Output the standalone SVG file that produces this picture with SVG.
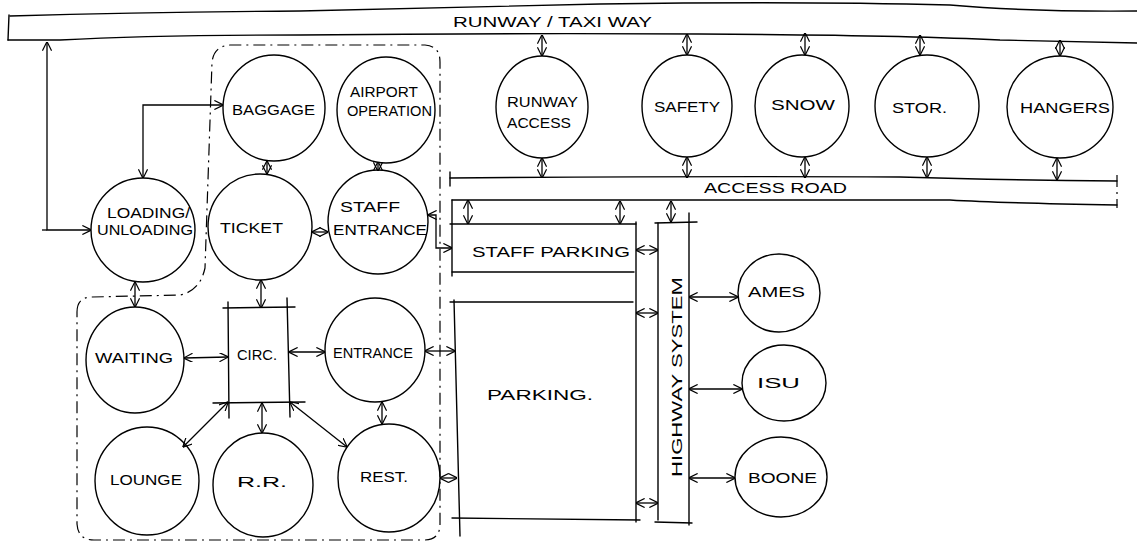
<svg xmlns="http://www.w3.org/2000/svg" width="1137" height="545" viewBox="0 0 1137 545">
<style>
  .ln{fill:none;stroke:#000;stroke-width:1.4;stroke-linecap:round;stroke-linejoin:round}
  .nd{fill:none;stroke:#000;stroke-width:1.4}
  .bd{fill:none;stroke:#000;stroke-width:1.2;stroke-dasharray:12 5 2 5}
  .cn{fill:none;stroke:#000;stroke-width:1.3;marker-start:url(#ah);marker-end:url(#ah)}
  .cs{fill:none;stroke:#000;stroke-width:1.3}
  text{font-family:"Liberation Sans",Arial,sans-serif;font-size:14px;fill:#000;lengthAdjust:spacingAndGlyphs}
</style>
<defs>
  <marker id="ah" viewBox="0 0 10 10" refX="9.5" refY="5" markerWidth="7" markerHeight="7" orient="auto-start-reverse">
    <path d="M0,0 L10,5 L0,10" fill="none" stroke="#000" stroke-width="1.3"/>
  </marker>
</defs>
<rect width="1137" height="545" fill="#fff"/>

<!-- structures -->
<g id="runway">
  <path class="ln" d="M10,16 Q150,12 300,11 Q450,8 600,4 Q800,1 950,5 Q1030,12 1137,11"/>
  <path class="ln" d="M8,40 L60,40 Q150,35 300,35 Q500,33 700,34 Q900,35 1000,40 L1137,43"/>
  <path class="ln" d="M9,15 L8,40"/>
  <text x="453" y="27" textLength="199" lengthAdjust="spacingAndGlyphs">RUNWAY / TAXI WAY</text>
</g>
<g id="access-road">
  <path class="ln" d="M450,178 Q700,176 900,177 Q1000,180 1117,181"/>
  <path class="ln" d="M452,200 Q800,199 950,200 Q1000,203 1117,205"/>
  <path class="ln" d="M450,172 L450,186"/>
  <path class="bd" d="M1117,175 L1117,208"/>
  <text x="704" y="193" textLength="143" lengthAdjust="spacingAndGlyphs">ACCESS ROAD</text>
</g>
<g id="staff-parking">
  <path class="ln" d="M450,224 L636,224"/>
  <path class="ln" d="M452,272 L634,272"/>
  <path class="ln" d="M452,200 L452,276"/>
  <text x="472" y="257" textLength="158" lengthAdjust="spacingAndGlyphs">STAFF PARKING</text>
</g>
<g id="parking">
  <path class="ln" d="M450,302 L633,302"/>
  <path class="ln" d="M452,518 L640,520"/>
  <path class="ln" d="M454,300 L460,536"/>
  <path class="ln" d="M636,222 L636,522"/>
  <text x="487" y="400" textLength="106" lengthAdjust="spacingAndGlyphs">PARKING.</text>
</g>
<g id="highway-system">
  <path class="ln" d="M655,223 L697,222"/>
  <path class="ln" d="M658,223 L658,520"/>
  <path class="ln" d="M689,213 L689,525"/>
  <path class="ln" d="M655,522 L692,523"/>
  <text transform="translate(682,377) rotate(-90)" x="-100" y="0" textLength="200" lengthAdjust="spacingAndGlyphs">HIGHWAY SYSTEM</text>
</g>
<g id="circ">
  <path class="ln" d="M223,308 L295,307"/>
  <path class="ln" d="M228,302 L229,418"/>
  <path class="ln" d="M287,298 L290,417"/>
  <path class="ln" d="M213,403 L305,402"/>
  <text x="237" y="360" textLength="40" lengthAdjust="spacingAndGlyphs">CIRC.</text>
</g>
<g id="boundary">
  <path class="bd" d="M77,312 Q77,297 92,297 L180,295 Q200,291 205,268 L212,62 Q214,46 230,45 L425,45 Q440,46 440,62 L440,524 Q440,540 424,540 L94,540 Q78,540 77,524 Z"/>
</g>

<!-- nodes -->
<g id="baggage"><ellipse class="nd" cx="274" cy="108" rx="51" ry="53"/><text x="232" y="115" textLength="83" lengthAdjust="spacingAndGlyphs">BAGGAGE</text></g>
<g id="airport-operation"><ellipse class="nd" cx="386" cy="110" rx="49" ry="53"/><text x="350" y="97" textLength="68" lengthAdjust="spacingAndGlyphs">AIRPORT</text><text x="347" y="116" textLength="85" lengthAdjust="spacingAndGlyphs">OPERATION</text></g>
<g id="loading-unloading"><ellipse class="nd" cx="143" cy="230" rx="52" ry="52"/><text x="107" y="218" textLength="83" lengthAdjust="spacingAndGlyphs">LOADING/</text><text x="97" y="235" textLength="96" lengthAdjust="spacingAndGlyphs">UNLOADING</text></g>
<g id="ticket"><ellipse class="nd" cx="260" cy="227" rx="52" ry="53"/><text x="220" y="233" textLength="63" lengthAdjust="spacingAndGlyphs">TICKET</text></g>
<g id="staff-entrance"><ellipse class="nd" cx="378" cy="222" rx="50" ry="52"/><text x="340" y="212" textLength="60" lengthAdjust="spacingAndGlyphs">STAFF</text><text x="333" y="235" textLength="94" lengthAdjust="spacingAndGlyphs">ENTRANCE</text></g>
<g id="waiting"><ellipse class="nd" cx="135" cy="360" rx="49" ry="53"/><text x="95" y="363" textLength="78" lengthAdjust="spacingAndGlyphs">WAITING</text></g>
<g id="entrance"><ellipse class="nd" cx="375" cy="350" rx="50" ry="52"/><text x="333" y="358" textLength="80" lengthAdjust="spacingAndGlyphs">ENTRANCE</text></g>
<g id="lounge"><ellipse class="nd" cx="147" cy="481" rx="52" ry="54"/><text x="110" y="485" textLength="72" lengthAdjust="spacingAndGlyphs">LOUNGE</text></g>
<g id="rr"><ellipse class="nd" cx="263" cy="485" rx="50" ry="52"/><text x="237" y="487" textLength="50" lengthAdjust="spacingAndGlyphs">R.R.</text></g>
<g id="rest"><ellipse class="nd" cx="389" cy="478" rx="51" ry="54"/><text x="360" y="482" textLength="48" lengthAdjust="spacingAndGlyphs">REST.</text></g>
<g id="runway-access"><ellipse class="nd" cx="542" cy="107" rx="46" ry="51"/><text x="507" y="107" textLength="71" lengthAdjust="spacingAndGlyphs">RUNWAY</text><text x="507" y="128" textLength="64" lengthAdjust="spacingAndGlyphs">ACCESS</text></g>
<g id="safety"><ellipse class="nd" cx="687" cy="106" rx="45" ry="51"/><text x="654" y="112" textLength="66" lengthAdjust="spacingAndGlyphs">SAFETY</text></g>
<g id="snow"><ellipse class="nd" cx="802" cy="106" rx="47" ry="51"/><text x="771" y="110" textLength="64" lengthAdjust="spacingAndGlyphs">SNOW</text></g>
<g id="stor"><ellipse class="nd" cx="927" cy="106" rx="52" ry="51"/><text x="892" y="113" textLength="55" lengthAdjust="spacingAndGlyphs">STOR.</text></g>
<g id="hangers"><ellipse class="nd" cx="1060" cy="107" rx="53" ry="51"/><text x="1020" y="113" textLength="90" lengthAdjust="spacingAndGlyphs">HANGERS</text></g>
<g id="ames"><ellipse class="nd" cx="779" cy="293" rx="41" ry="39"/><text x="748" y="297" textLength="57" lengthAdjust="spacingAndGlyphs">AMES</text></g>
<g id="isu"><ellipse class="nd" cx="784" cy="383" rx="42" ry="38"/><text x="757" y="388" textLength="43" lengthAdjust="spacingAndGlyphs">ISU</text></g>
<g id="boone"><ellipse class="nd" cx="781" cy="477" rx="46" ry="40"/><text x="748" y="483" textLength="69" lengthAdjust="spacingAndGlyphs">BOONE</text></g>

<!-- connectors -->
<g id="connectors">
  <path class="cn" d="M542,35 L542,56"/>
  <path class="cn" d="M542,158 L542,178"/>
  <path class="cn" d="M687,34 L687,55"/>
  <path class="cn" d="M687,157 L687,178"/>
  <path class="cn" d="M805,33 L805,55"/>
  <path class="cn" d="M805,157 L805,178"/>
  <path class="cn" d="M920,35 L920,55"/>
  <path class="cn" d="M927,157 L927,178"/>
  <path class="cn" d="M1060,40 L1060,56"/>
  <path class="cn" d="M1057,158 L1057,180"/>
  <path class="cn" d="M468,200 L468,224"/>
  <path class="cn" d="M620,201 L620,224"/>
  <path class="cn" d="M671,201 L671,222"/>
  <path class="cn" d="M636,250 L658,250"/>
  <path class="cn" d="M636,313 L658,313"/>
  <path class="cn" d="M636,503 L658,503"/>
  <path class="cn" d="M689,297 L738,297"/>
  <path class="cn" d="M689,389 L742,389"/>
  <path class="cn" d="M689,478 L735,478"/>
  <path class="cn" d="M47,42 L47,230 L91,230"/>
  <path class="cs" d="M42,230 L47,230"/>
  <path class="cn" d="M143,178 L143,105 L223,105"/>
  <path class="cn" d="M135,282 L135,307"/>
  <path class="cn" d="M267,161 L267,174"/>
  <path class="cn" d="M378,162 L378,171"/>
  <path class="cn" d="M312,232 L328,232"/>
  <path class="cn" d="M261,280 L261,308"/>
  <path class="cn" d="M184,358 L228,357"/>
  <path class="cn" d="M289,352 L325,352"/>
  <path class="cn" d="M425,351 L455,351"/>
  <path class="cn" d="M228,402 L183,447"/>
  <path class="cn" d="M262,403 L262,433"/>
  <path class="cn" d="M290,402 L347,447"/>
  <path class="cn" d="M382,402 L382,424"/>
  <path class="cn" d="M440,478 L457,478"/>
  <path class="cn" d="M428,215 L436,215 L436,248 L452,248"/>
</g>
</svg>
